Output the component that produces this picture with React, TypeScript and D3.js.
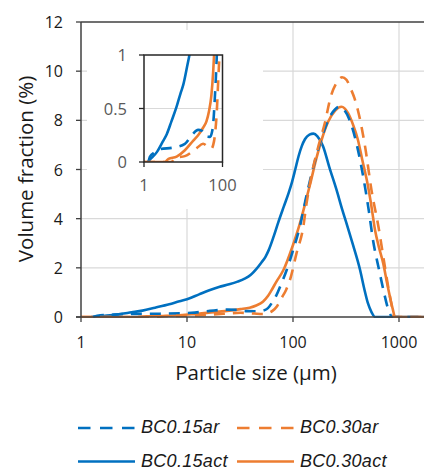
import React from "react";
import * as d3 from "d3";

// particle size (µm) and volume fraction (%)
const act015Size = [1.25, 1.4, 2.1, 3, 3.8, 5, 6.8, 8.5, 10, 13, 16, 20, 25, 30, 35, 40, 45, 50, 55, 59, 66, 73, 82, 91, 98, 105, 113, 121, 130, 143, 156, 170, 192, 220, 258, 290, 323, 370, 430, 470, 510, 550, 594, 2000];
const act015Vol = [0, 0.02, 0.09, 0.19, 0.26, 0.38, 0.52, 0.64, 0.72, 0.92, 1.08, 1.22, 1.33, 1.44, 1.56, 1.72, 1.95, 2.2, 2.45, 2.72, 3.3, 3.88, 4.5, 5.05, 5.5, 6.0, 6.55, 6.95, 7.24, 7.42, 7.46, 7.35, 6.95, 6.1, 5.16, 4.4, 3.75, 2.9, 1.9, 1.15, 0.55, 0.2, 0, 0];

const ar015Size = [1.3, 1.42, 1.9, 2.56, 5.6, 11, 16.5, 24, 30, 36, 48, 54, 58, 64, 70, 75, 87, 100, 116, 135, 160, 190, 220, 250, 270, 300, 350, 400, 460, 520, 570, 650, 730, 800, 870, 2000];
const ar015Vol = [0, 0.05, 0.09, 0.12, 0.135, 0.17, 0.25, 0.3, 0.29, 0.24, 0.235, 0.28, 0.36, 0.61, 0.9, 1.2, 1.9, 2.7, 3.67, 5.0, 6.3, 7.4, 8.1, 8.45, 8.55, 8.45, 7.9, 7.0, 5.7, 4.3, 3.1, 1.9, 0.9, 0.25, 0, 0];

const act030Size = [1, 3.4, 4.2, 6.8, 11, 18, 25, 32, 39, 45, 52, 58, 62, 70, 81, 100, 116, 130, 145, 165, 186, 215, 250, 287, 330, 370, 410, 450, 497, 545, 594, 650, 710, 770, 820, 870, 920, 2000];
const act030Vol = [0, 0, 0.03, 0.05, 0.11, 0.2, 0.26, 0.32, 0.38, 0.47, 0.62, 0.85, 1.05, 1.45, 1.9, 2.93, 3.8, 4.6, 5.4, 6.4, 7.2, 7.95, 8.4, 8.55, 8.3, 7.8, 7.2, 6.4, 5.57, 4.6, 3.54, 2.8, 2.18, 1.4, 0.83, 0.35, 0, 0];

const ar030Size = [1, 5, 6.2, 11, 22, 32, 43, 52, 58, 64, 71, 78, 86, 93.5, 108, 125, 134, 150, 175, 200, 225, 260, 290, 320, 344, 380, 410, 480, 550, 640, 720, 800, 860, 900, 2000];
const ar030Vol = [0, 0, 0.04, 0.055, 0.13, 0.17, 0.14, 0.125, 0.16, 0.25, 0.45, 0.77, 1.1, 1.5, 2.6, 3.67, 4.6, 5.8, 7.0, 7.9, 8.9, 9.55, 9.75, 9.65, 9.36, 8.9, 8.4, 6.9, 5.16, 3.67, 2.3, 1.1, 0.4, 0, 0];

const seriesNames = ["BC0.15ar", "BC0.30ar", "BC0.15act", "BC0.30act"];
const mainXTicks = [1, 10, 100, 1000];
const mainYTicks = [0, 2, 4, 6, 8, 10, 12];
const insetXTicks = [1, 100];
const insetYTicks = [0, 0.5, 1];
const xTitle = "Particle size (µm)";
const yTitle = "Volume fraction (%)";

const BLUE = "#0070C0";
const ORANGE = "#ED7D31";
const FONT = "'Open Sans', 'DejaVu Sans', sans-serif";
const LEGEND_FONT = "'Liberation Sans', Arial, sans-serif";

type Pt = [number, number];
const zip = (a: number[], b: number[]): Pt[] => a.map((v, i) => [v, b[i]]);

const series = [
  { name: seriesNames[0], data: zip(ar015Size, ar015Vol), color: BLUE, dash: "11,8" },
  { name: seriesNames[1], data: zip(ar030Size, ar030Vol), color: ORANGE, dash: "11,8" },
  { name: seriesNames[2], data: zip(act015Size, act015Vol), color: BLUE, dash: null },
  { name: seriesNames[3], data: zip(act030Size, act030Vol), color: ORANGE, dash: null },
];

export default function App() {
  React.useEffect(() => {
    document.body.style.margin = "0";
  }, []);

  const W = 424, H = 469;
  const x = d3.scaleLog().domain([1, Math.pow(10, 343 / 106)]).range([81, 424]);
  const y = d3.scaleLinear().domain([0, 12]).range([317, 22]);

  const xi = d3.scaleLog().domain([1, 100]).range([144, 222.5]);
  const yi = d3.scaleLinear().domain([0, 1]).range([162, 55]);

  const mainLine = d3.line<Pt>().x((d) => x(d[0])).y((d) => y(d[1])).curve(d3.curveMonotoneX);
  const insetLine = d3.line<Pt>().x((d) => xi(Math.max(d[0], 0.5))).y((d) => yi(d[1])).curve(d3.curveMonotoneX);

  const drawOrder = [2, 3, 0, 1];

  return (
    <svg width={W} height={H} style={{ position: "absolute", left: 0, top: 0, display: "block" }} fontFamily={FONT}>
      <rect x={0} y={0} width={W} height={H} fill="#fff" />
      <defs>
        <clipPath id="mainClip">
          <rect x={81} y={10} width={343} height={308} />
        </clipPath>
        <clipPath id="insetClip">
          <rect x={144} y={55} width={78.5} height={107} />
        </clipPath>
      </defs>
      {/* grid */}
      {mainYTicks.filter((t) => t > 0 && t < 12).map((t) => (
        <line key={"gy" + t} x1={81} x2={424} y1={y(t)} y2={y(t)} stroke="#d9d9d9" strokeWidth={1.2} />
      ))}
      {mainXTicks.filter((t) => t > 1).map((t) => (
        <line key={"gx" + t} x1={x(t)} x2={x(t)} y1={22} y2={317} stroke="#d9d9d9" strokeWidth={1.2} />
      ))}
      {/* series */}
      <g clipPath="url(#mainClip)">
        {drawOrder.map((i) => {
          const s = series[i];
          return (
            <path key={s.name} d={mainLine(s.data) || ""} fill="none" stroke={s.color} strokeWidth={2.6}
              strokeDasharray={s.dash || undefined} strokeLinejoin="round" />
          );
        })}
      </g>
      {/* axes */}
      <line x1={81} x2={424} y1={22} y2={22} stroke="#404040" strokeWidth={1.5} />
      <line x1={81} x2={81} y1={22} y2={317} stroke="#404040" strokeWidth={1.5} />
      <line x1={76} x2={424} y1={317} y2={317} stroke="#404040" strokeWidth={1.5} />
      {mainYTicks.map((t) => (
        <g key={"ty" + t}>
          <line x1={76} x2={81} y1={y(t)} y2={y(t)} stroke="#404040" strokeWidth={1.3} />
          <text x={63} y={y(t) + 6} textAnchor="end" fontSize={16} fill="#1a1a1a">{t}</text>
        </g>
      ))}
      {mainXTicks.map((t) => (
        <g key={"tx" + t}>
          <line x1={x(t)} x2={x(t)} y1={317} y2={322} stroke="#404040" strokeWidth={1.3} />
          <text x={x(t)} y={348} textAnchor="middle" fontSize={16} fill="#1a1a1a">{t}</text>
        </g>
      ))}
      <text x={256} y={380} textAnchor="middle" fontSize={20.5} fill="#1a1a1a">{xTitle}</text>
      <text transform="translate(33,169) rotate(-90)" textAnchor="middle" fontSize={20.5} fill="#1a1a1a">{yTitle}</text>

      {/* inset */}
      <rect x={87} y={30} width={176} height={179} fill="#fff" />
      <line x1={144} x2={222.5} y1={yi(0.5)} y2={yi(0.5)} stroke="#d9d9d9" strokeWidth={1.2} />
      <g clipPath="url(#insetClip)">
        {drawOrder.map((i) => {
          const s = series[i];
          return (
            <path key={"in" + s.name} d={insetLine(s.data) || ""} fill="none" stroke={s.color} strokeWidth={2.6}
              strokeDasharray={s.dash || undefined} strokeLinejoin="round" />
          );
        })}
      </g>
      <rect x={144} y={55} width={78.5} height={107} fill="none" stroke="#262626" strokeWidth={1.5} />
      {insetYTicks.map((t) => (
        <g key={"iy" + t}>
          <line x1={139} x2={144} y1={yi(t)} y2={yi(t)} stroke="#262626" strokeWidth={1.3} />
          <text x={127} y={yi(t) + 6} textAnchor="end" fontSize={16.5} fill="#595959">{t}</text>
        </g>
      ))}
      {insetXTicks.map((t) => (
        <g key={"ix" + t}>
          <line x1={xi(t)} x2={xi(t)} y1={162} y2={167} stroke="#262626" strokeWidth={1.3} />
          <text x={xi(t)} y={191} textAnchor="middle" fontSize={16.5} fill="#595959">{t}</text>
        </g>
      ))}

      {/* legend */}
      {series.map((s, i) => {
        const col = i % 2;
        const row = Math.floor(i / 2);
        const lx = col === 0 ? 78 : 237;
        const ly = row === 0 ? 428 : 461.5;
        return (
          <g key={"lg" + s.name}>
            <line x1={lx} x2={lx + 57} y1={ly} y2={ly} stroke={s.color} strokeWidth={2.6}
              strokeDasharray={s.dash ? "12.5,9.5" : undefined} />
            <text x={lx + 63} y={ly + 5} fontSize={18} fontStyle="italic" letterSpacing={0.3}
              fontFamily={LEGEND_FONT} fill="#1a1a1a">{s.name}</text>
          </g>
        );
      })}
    </svg>
  );
}
